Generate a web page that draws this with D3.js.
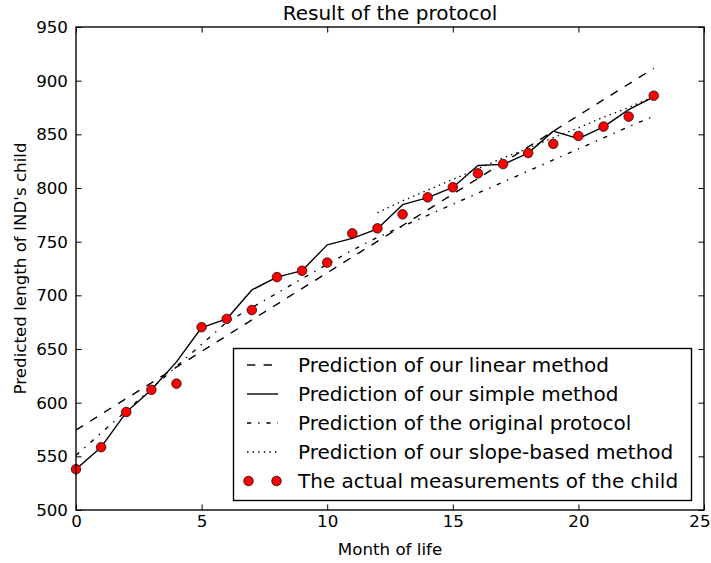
<!DOCTYPE html>
<html><head><meta charset="utf-8">
<script src="https://cdn.jsdelivr.net/npm/d3@7"></script>
<style>body{margin:0;background:#fff}svg{display:block}text{font-family:"DejaVu Sans",sans-serif;fill:#000}</style>
</head><body>
<svg id="c" width="711" height="563"></svg>
<script>
const months = d3.range(0, 24);
const actual = [538, 558.5, 591.3, 612, 617.7, 670.3, 678, 686.3, 717, 722.9, 730.5, 757.7, 762.4, 775.5, 791.3, 800.7, 813.6, 822.3, 832.6, 841.1, 848.5, 857.2, 866.5, 886];
const simple = [538, 558.5, 591, 612, 638, 670, 678, 705, 717, 723, 747, 753, 762, 784.5, 791, 800.5, 821, 822, 832.5, 853, 846, 857, 873, 885];
const linearEnds = [[0, 574.5], [23, 911.5]];
const original = [551, 571.7, 592.3, 613, 633.7, 654.3, 675, 688.5, 702, 715.5, 729, 742, 754, 764.3, 774.6, 784.9, 795.2, 805.5, 815.8, 826.1, 836.4, 846.7, 857, 867];
const slopeMonths = d3.range(12, 24);
const slopeBased = [777, 788, 798, 808, 818, 828, 837, 847, 856, 866, 875, 885];
const xTicks = [0, 5, 10, 15, 20, 25];
const yTicks = [500, 550, 600, 650, 700, 750, 800, 850, 900, 950];
const legendLabels = ["Prediction of our linear method", "Prediction of our simple method", "Prediction of the original protocol", "Prediction of our slope-based method", "The actual measurements of the child"];

const svg = d3.select("#c");
const L = 76, R = 704, T = 27, B = 510;
const x = d3.scaleLinear().domain([0, 25]).range([L, R]);
const y = d3.scaleLinear().domain([500, 950]).range([B, T]);
const lw = 1.39;
const tick = 5.6;

// axes
const fs = "16.7px";
const gB = svg.append("g").attr("transform", `translate(0,${B})`)
  .call(d3.axisBottom(x).tickValues(xTicks).tickSize(-tick).tickPadding(5).tickFormat(d3.format("d")));
const gT = svg.append("g").attr("transform", `translate(0,${T})`)
  .call(d3.axisTop(x).tickValues(xTicks).tickSize(-tick).tickFormat(""));
const gLft = svg.append("g").attr("transform", `translate(${L},0)`)
  .call(d3.axisLeft(y).tickValues(yTicks).tickSize(-tick).tickPadding(8).tickFormat(d3.format("d")));
const gRt = svg.append("g").attr("transform", `translate(${R},0)`)
  .call(d3.axisRight(y).tickValues(yTicks).tickSize(-tick).tickFormat(""));
[gB, gT, gLft, gRt].forEach(g => {
  g.select(".domain").remove();
  g.selectAll(".tick line").attr("stroke", "#000").attr("stroke-width", 1);
  g.selectAll(".tick text").attr("font-family", "DejaVu Sans").attr("font-size", fs).attr("fill", "#000");
});
// keep the last x label inside the window
gB.selectAll(".tick text").filter(d => d === 25).attr("text-anchor", "end").attr("x", 6);

// lines
const clip = svg.append("defs").append("clipPath").attr("id", "clp").append("rect")
  .attr("x", L).attr("y", T).attr("width", R - L).attr("height", B - T);
const plot = svg.append("g").attr("clip-path", "url(#clp)");
const line = d3.line().x(d => x(d[0])).y(d => y(d[1]));
const styles = {
  dashed: "8.3,8.3",
  solid: null,
  dashdot: "4.2,6.9,1.4,6.9",
  dotted: "1.4,4.2"
};
function drawLine(pts, dash) {
  plot.append("path").datum(pts).attr("d", line).attr("fill", "none")
    .attr("stroke", "#000").attr("stroke-width", lw)
    .attr("stroke-dasharray", dash).attr("stroke-linejoin", "round");
}
drawLine(linearEnds, styles.dashed);
drawLine(months.map((m, i) => [m, simple[i]]), styles.solid);
drawLine(months.map((m, i) => [m, original[i]]), styles.dashdot);
drawLine(slopeMonths.map((m, i) => [m, slopeBased[i]]), styles.dotted);
svg.append("g").selectAll("circle").data(months.map((m, i) => [m, actual[i]])).join("circle")
  .attr("cx", d => x(d[0])).attr("cy", d => y(d[1])).attr("r", 4.8)
  .attr("fill", "#ff0000").attr("stroke", "#000").attr("stroke-width", 0.7);

// frame
svg.append("rect").attr("x", L).attr("y", T).attr("width", R - L).attr("height", B - T)
  .attr("fill", "none").attr("stroke", "#000").attr("stroke-width", lw);

// title and labels
svg.append("text").attr("x", (L + R) / 2).attr("y", 20).attr("text-anchor", "middle")
  .attr("font-size", "20px").text("Result of the protocol");
svg.append("text").attr("x", (L + R) / 2).attr("y", 555).attr("text-anchor", "middle")
  .attr("font-size", "16.7px").text("Month of life");
svg.append("text").attr("transform", `translate(26,${(T + B) / 2}) rotate(-90)`).attr("text-anchor", "middle")
  .attr("font-size", "16.7px").text("Predicted length of IND's child");

// legend
const lg = svg.append("g");
lg.append("rect").attr("x", 233.5).attr("y", 348.5).attr("width", 458).attr("height", 152)
  .attr("fill", "#fff").attr("stroke", "#000").attr("stroke-width", lw);
const rows = [365, 394, 423, 452, 481];
const dashes = [styles.dashed, styles.solid, styles.dashdot, styles.dotted];
dashes.forEach((d, i) => {
  lg.append("line").attr("x1", 247).attr("x2", 278).attr("y1", rows[i]).attr("y2", rows[i])
    .attr("stroke", "#000").attr("stroke-width", lw).attr("stroke-dasharray", d);
});
[248.5, 276.5].forEach(cx => lg.append("circle").attr("cx", cx).attr("cy", rows[4]).attr("r", 4.8)
  .attr("fill", "#ff0000").attr("stroke", "#000").attr("stroke-width", 0.7));
legendLabels.forEach((t, i) => {
  lg.append("text").attr("x", 298).attr("y", rows[i]).attr("dy", "0.36em")
    .attr("font-size", "20px").text(t);
});
</script>
</body></html>
